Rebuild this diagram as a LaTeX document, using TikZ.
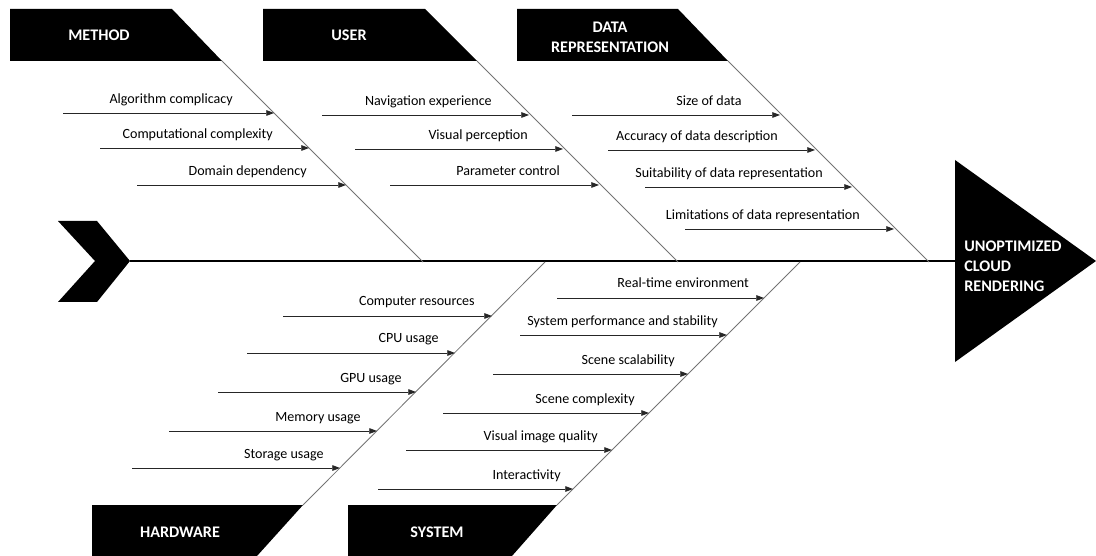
\documentclass[tikz,border=0pt]{standalone}
\usepackage{fontspec}
\setmainfont{Carlito}
\usetikzlibrary{arrows.meta,positioning,calc}

\begin{document}
\begin{tikzpicture}[
  x=0.025cm, y=-0.025cm,
  every node/.style={font=\fontsize{10}{12}\selectfont},
  catbox/.style={fill=black},
  catlabel/.style={text=white,align=center,inner sep=0pt,
                   font=\fontsize{11.5}{14.2}\selectfont\bfseries},
  bone/.style={draw=black!55,line width=0.6pt},
  spine/.style={draw=black,line width=1.9pt},
  cause/.style={draw=black!85,line width=0.6pt,-{Triangle[length=5.5pt,width=4pt]}},
  causetext/.style={anchor=base east,inner sep=0pt},
]
  \useasboundingbox (0,0) rectangle (1096,556);

  % Tail and head
  \fill (58,221) -- (97,221) -- (130,261) -- (97,302) -- (58,302) -- (95,261) -- cycle;
  \fill (955,160) -- (1096,261) -- (955,362) -- cycle;
  \coordinate (tail) at (130,261);
  \coordinate (head) at (955,261);
  \draw[spine] (tail) -- (head);
  \node[catlabel,align=left,anchor=north west] (effect) at (964,241)
    {UNOPTIMIZED\\CLOUD\\RENDERING};

  % Category boxes
  \fill[catbox] (10,9) -- (172,9) -- (222,61) -- (10,61) -- cycle;
  \fill[catbox] (263,9) -- (425,9) -- (477,61) -- (263,61) -- cycle;
  \fill[catbox] (517,9) -- (678,9) -- (728,61) -- (517,61) -- cycle;
  \fill[catbox] (92,505) -- (303,505) -- (257,556) -- (92,556) -- cycle;
  \fill[catbox] (348,505) -- (557,505) -- (512,556) -- (348,556) -- cycle;
  \node[catlabel] (method) at (99,35) {METHOD};
  \node[catlabel] (user)   at (349,35) {USER};
  \node[catlabel] (data)   at (610,37) {DATA\\REPRESENTATION};
  \node[catlabel] (hw)     at (180,532) {HARDWARE};
  \node[catlabel] (sys)    at (437,532) {SYSTEM};

  % Bones
  \coordinate (method-c) at (222,61);  \coordinate (method-e) at (423,262);
  \coordinate (user-c)   at (477,61);  \coordinate (user-e)   at (678,262);
  \coordinate (data-c)   at (728,61);  \coordinate (data-e)   at (929,262);
  \coordinate (hw-c)     at (303,505); \coordinate (hw-e)     at (545,262);
  \coordinate (sys-c)    at (557,505); \coordinate (sys-e)    at (800,262);
  \draw[bone] (method-c) -- (method-e);
  \draw[bone] (user-c) -- (user-e);
  \draw[bone] (data-c) -- (data-e);
  \draw[bone] (hw-c) -- (hw-e);
  \draw[bone] (sys-c) -- (sys-e);

  % Method causes
  \coordinate (alg-s) at (63,113); \coordinate (alg-t) at (274,113);
  \draw[cause] (alg-s) -- (alg-t);
  \node[causetext] (alg) at (233,104) {Algorithm complicacy};
  \coordinate (comp-s) at (100,148); \coordinate (comp-t) at (309,148);
  \draw[cause] (comp-s) -- (comp-t);
  \node[causetext] (comp) at (273,139) {Computational complexity};
  \coordinate (dom-s) at (137,185); \coordinate (dom-t) at (346,185);
  \draw[cause] (dom-s) -- (dom-t);
  \node[causetext] (dom) at (307,176) {Domain dependency};

  % User causes
  \coordinate (nav-s) at (322,115); \coordinate (nav-t) at (529,115);
  \draw[cause] (nav-s) -- (nav-t);
  \node[causetext] (nav) at (492,106) {Navigation experience};
  \coordinate (vis-s) at (355,149); \coordinate (vis-t) at (563,149);
  \draw[cause] (vis-s) -- (vis-t);
  \node[causetext] (vis) at (528,140) {Visual perception};
  \coordinate (par-s) at (390,185); \coordinate (par-t) at (599,185);
  \draw[cause] (par-s) -- (par-t);
  \node[causetext] (par) at (560,176) {Parameter control};

  % Data representation causes
  \coordinate (size-s) at (572,115); \coordinate (size-t) at (780,115);
  \draw[cause] (size-s) -- (size-t);
  \node[causetext] (size) at (742,106) {Size of data};
  \coordinate (acc-s) at (608,150); \coordinate (acc-t) at (815,150);
  \draw[cause] (acc-s) -- (acc-t);
  \node[causetext] (acc) at (778,141) {Accuracy of data description};
  \coordinate (suit-s) at (645,187); \coordinate (suit-t) at (852,187);
  \draw[cause] (suit-s) -- (suit-t);
  \node[causetext] (suit) at (823,178) {Suitability of data representation};
  \coordinate (lim-s) at (685,229); \coordinate (lim-t) at (894,229);
  \draw[cause] (lim-s) -- (lim-t);
  \node[causetext] (lim) at (860,220) {Limitations of data representation};

  % Hardware causes
  \coordinate (res-s) at (283,316); \coordinate (res-t) at (492,316);
  \draw[cause] (res-s) -- (res-t);
  \node[causetext] (res) at (475,306) {Computer resources};
  \coordinate (cpu-s) at (247,353); \coordinate (cpu-t) at (455,353);
  \draw[cause] (cpu-s) -- (cpu-t);
  \node[causetext] (cpu) at (439,343) {CPU usage};
  \coordinate (gpu-s) at (218,392); \coordinate (gpu-t) at (416,392);
  \draw[cause] (gpu-s) -- (gpu-t);
  \node[causetext] (gpu) at (402,382) {GPU usage};
  \coordinate (mem-s) at (169,431); \coordinate (mem-t) at (377,431);
  \draw[cause] (mem-s) -- (mem-t);
  \node[causetext] (mem) at (361,421) {Memory usage};
  \coordinate (sto-s) at (132,468); \coordinate (sto-t) at (340,468);
  \draw[cause] (sto-s) -- (sto-t);
  \node[causetext] (sto) at (324,458) {Storage usage};

  % System causes
  \coordinate (rt-s) at (557,298); \coordinate (rt-t) at (764,298);
  \draw[cause] (rt-s) -- (rt-t);
  \node[causetext] (rt) at (749,288) {Real-time environment};
  \coordinate (perf-s) at (520,335); \coordinate (perf-t) at (727,335);
  \draw[cause] (perf-s) -- (perf-t);
  \node[causetext] (perf) at (718,325) {System performance and stability};
  \coordinate (scal-s) at (493,374); \coordinate (scal-t) at (688,374);
  \draw[cause] (scal-s) -- (scal-t);
  \node[causetext] (scal) at (675,364) {Scene scalability};
  \coordinate (cplx-s) at (443,413); \coordinate (cplx-t) at (649,413);
  \draw[cause] (cplx-s) -- (cplx-t);
  \node[causetext] (cplx) at (635,403) {Scene complexity};
  \coordinate (qual-s) at (406,450); \coordinate (qual-t) at (612,450);
  \draw[cause] (qual-s) -- (qual-t);
  \node[causetext] (qual) at (598,440) {Visual image quality};
  \coordinate (inter-s) at (378,489); \coordinate (inter-t) at (573,489);
  \draw[cause] (inter-s) -- (inter-t);
  \node[causetext] (inter) at (561,479) {Interactivity};
\end{tikzpicture}
\end{document}
